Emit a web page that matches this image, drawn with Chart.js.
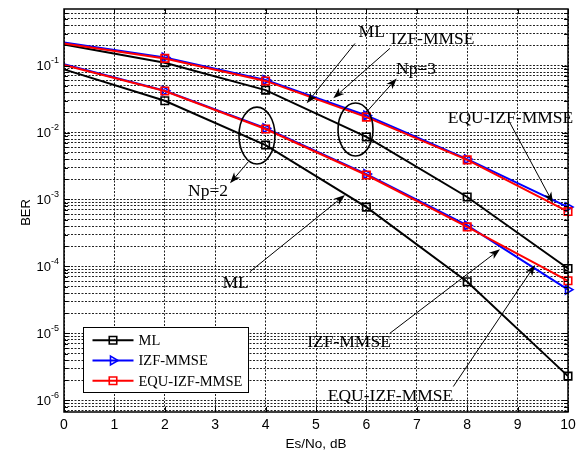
<!DOCTYPE html>
<html>
<head>
<meta charset="utf-8">
<script src="https://cdn.jsdelivr.net/npm/chart.js@4.4.1/dist/chart.umd.min.js"></script>
<style>
  html, body { margin: 0; padding: 0; background: #fff; }
</style>
</head>
<body>
<canvas id="ber" width="582" height="452"></canvas>
<script>
const snrDb = [0, 2, 4, 6, 8, 10];
const snrTicks = [0, 1, 2, 3, 4, 5, 6, 7, 8, 9, 10];
const berDecades = [-6, -5, -4, -3, -2, -1];
const methodNames = ['ML', 'IZF-MMSE', 'EQU-IZF-MMSE'];

// Np = 2
const mlNp2 = [0.0877, 0.0298, 0.0065, 7.7e-4, 5.9e-5, 2.3e-6];
const izfNp2 = [0.105, 0.042, 0.0116, 0.0024, 4.1e-4, 4.5e-5];
const equNp2 = [0.102, 0.0417, 0.0113, 0.00232, 3.9e-4, 6.1e-5];
// Np = 3
const mlNp3 = [0.207, 0.110, 0.043, 0.0086, 0.00109, 9.3e-5];
const izfNp3 = [0.222, 0.132, 0.061, 0.0180, 0.0040, 7.7e-4];
const equNp3 = [0.214, 0.128, 0.059, 0.0170, 0.0039, 6.6e-4];

const BER_MIN = 6.7e-7;
const BER_MAX = 0.7;
const SERIF = '"Liberation Serif", "Times New Roman", serif';
const SANS = '"Liberation Sans", Arial, sans-serif';

const styles = {
  ML: { color: '#000000', pointStyle: 'rect', rotation: 0, radius: 5.3, order: 2 },
  'IZF-MMSE': { color: '#0000ff', pointStyle: 'triangle', rotation: 90, radius: 5, order: 1 },
  'EQU-IZF-MMSE': { color: '#ff0000', pointStyle: 'rect', rotation: 0, radius: 5.3, order: 0 }
};

function makeSet(name, values) {
  const s = styles[name];
  return {
    label: name,
    data: snrDb.map((x, i) => ({ x, y: values[i] })),
    borderColor: s.color,
    borderWidth: 2,
    backgroundColor: 'rgba(0,0,0,0)',
    pointBackgroundColor: 'rgba(0,0,0,0)',
    pointBorderColor: s.color,
    pointBorderWidth: 1.6,
    pointStyle: s.pointStyle,
    pointRotation: s.rotation,
    pointRadius: snrDb.map((x, i) => i === 0 ? 0 : s.radius),
    pointHoverRadius: 0,
    tension: 0,
    clip: false,
    order: s.order
  };
}

// text callouts, placed in data coordinates (dB, BER)
const notes = [
  { text: 'ML', at: [6.105, 0.319], from: [5.774, 0.214], to: [4.815, 0.0273] },
  { text: 'IZF-MMSE', at: [7.315, 0.255], from: [6.468, 0.181], to: [5.343, 0.0324] },
  { text: 'Np=3', at: [6.984, 0.0918], from: [6.006, 0.0204], to: [6.601, 0.0644] },
  { text: 'EQU-IZF-MMSE', at: [8.859, 0.0170], from: [8.849, 0.0139], to: [9.702, 8.87e-4] },
  { text: 'Np=2', at: [2.857, 1.387e-3], from: [3.657, 3.66e-3], to: [3.294, 1.746e-3] },
  { text: 'ML', at: [3.403, 5.87e-5], from: [3.690, 8.36e-5], to: [5.575, 1.167e-3] },
  { text: 'IZF-MMSE', at: [5.655, 7.55e-6], from: [6.468, 1.007e-5], to: [8.651, 1.807e-4] },
  { text: 'EQU-IZF-MMSE', at: [6.478, 1.167e-6], from: [7.724, 1.607e-6], to: [9.345, 1.052e-4] }
];
// ellipses: centre (dB, BER), half width in dB, half height in decades
const rings = [
  { at: [5.784, 0.01109], rx: 0.347, ry: 0.3955 },
  { at: [3.829, 0.00902], rx: 0.357, ry: 0.425 }
];

function arrow(ctx, x0, y0, x1, y1) {
  const a = Math.atan2(y1 - y0, x1 - x0);
  const len = 11, half = 4, notch = 8;
  ctx.beginPath();
  ctx.moveTo(x0, y0);
  ctx.lineTo(x1 - Math.cos(a) * notch, y1 - Math.sin(a) * notch);
  ctx.stroke();
  const bx = x1 - Math.cos(a) * len, by = y1 - Math.sin(a) * len;
  ctx.beginPath();
  ctx.moveTo(x1, y1);
  ctx.lineTo(bx - Math.sin(a) * half, by + Math.cos(a) * half);
  ctx.lineTo(x1 - Math.cos(a) * notch, y1 - Math.sin(a) * notch);
  ctx.lineTo(bx + Math.sin(a) * half, by - Math.cos(a) * half);
  ctx.closePath();
  ctx.fill();
}

const decorations = {
  id: 'decorations',
  afterDatasetsDraw(chart) {
    const ctx = chart.ctx;
    const xs = chart.scales.x, ys = chart.scales.y;
    const ca = chart.chartArea;
    const px = v => xs.getPixelForValue(v);
    const py = v => ys.getPixelForValue(v);
    ctx.save();

    // inward tick marks + box
    ctx.strokeStyle = '#000';
    ctx.lineWidth = 1;
    ctx.beginPath();
    ys.ticks.forEach(t => {
      const y = Math.round(py(t.value)) + 0.5;
      const len = Math.abs(Math.log10(t.value) - Math.round(Math.log10(t.value))) < 1e-6 ? 6 : 4;
      ctx.moveTo(ca.left, y); ctx.lineTo(ca.left + len, y);
      ctx.moveTo(ca.right, y); ctx.lineTo(ca.right - len, y);
    });
    xs.ticks.forEach(t => {
      const x = Math.round(px(t.value)) + 0.5;
      ctx.moveTo(x, ca.bottom); ctx.lineTo(x, ca.bottom - 5);
      ctx.moveTo(x, ca.top); ctx.lineTo(x, ca.top + 5);
    });
    ctx.stroke();
    ctx.lineWidth = 1.5;
    ctx.strokeRect(Math.round(ca.left), Math.round(ca.top), Math.round(ca.right - ca.left), Math.round(ca.bottom - ca.top));

    // ellipses
    ctx.lineWidth = 1.6;
    rings.forEach(r => {
      const cx = px(r.at[0]), cy = py(r.at[1]);
      const rx = px(r.at[0] + r.rx) - cx;
      const ry = cy - py(r.at[1] * Math.pow(10, r.ry));
      ctx.beginPath();
      ctx.ellipse(cx, cy, rx, ry, 0, 0, Math.PI * 2);
      ctx.stroke();
    });

    // callouts
    ctx.lineWidth = 1;
    ctx.fillStyle = '#000';
    notes.forEach(n => {
      arrow(ctx, px(n.from[0]), py(n.from[1]), px(n.to[0]), py(n.to[1]));
    });
    ctx.font = '17.5px ' + SERIF;
    ctx.textAlign = 'center';
    ctx.textBaseline = 'middle';
    notes.forEach(n => {
      ctx.fillText(n.text, px(n.at[0]), py(n.at[1]) + 1);
    });

    // legend
    const lx = Math.round(ca.left) + 19.5, lw = 165, lh = 65;
    const ly = Math.round(ca.bottom) - 84.5;
    ctx.fillStyle = '#fff';
    ctx.fillRect(lx, ly, lw, lh);
    ctx.strokeStyle = '#000';
    ctx.lineWidth = 1;
    ctx.strokeRect(lx, ly, lw, lh);
    ctx.font = '14.5px ' + SERIF;
    ctx.textAlign = 'left';
    methodNames.forEach((name, i) => {
      const s = styles[name];
      const y = ly + 12.7 + i * 20.3;
      ctx.strokeStyle = s.color;
      ctx.lineWidth = 2;
      ctx.beginPath();
      ctx.moveTo(lx + 9, y); ctx.lineTo(lx + 50, y);
      ctx.stroke();
      ctx.lineWidth = 1.6;
      ctx.fillStyle = 'rgba(0,0,0,0)';
      Chart.helpers.drawPoint(ctx, {
        pointStyle: s.pointStyle, rotation: s.rotation, radius: s.radius,
        borderWidth: 1.6
      }, lx + 29.5, y);
      ctx.fillStyle = '#000';
      ctx.fillText(name, lx + 55, y + 1);
    });

    // y tick labels with exponents
    berDecades.forEach(e => {
      const y = py(Math.pow(10, e));
      ctx.fillStyle = '#000';
      ctx.textBaseline = 'middle';
      ctx.textAlign = 'right';
      ctx.font = '13px ' + SANS;
      ctx.fillText('10', ca.left - 13, y + 1);
      ctx.textAlign = 'left';
      ctx.font = '9px ' + SANS;
      ctx.fillText(String(e), ca.left - 13, y - 5);
    });

    // y title
    ctx.save();
    ctx.translate(26, (ca.top + ca.bottom) / 2 + 2);
    ctx.rotate(-Math.PI / 2);
    ctx.textAlign = 'center';
    ctx.textBaseline = 'middle';
    ctx.font = '13px ' + SANS;
    ctx.fillText('BER', 0, 0);
    ctx.restore();

    ctx.restore();
  }
};

const gridValues = [];
for (let e = -7; e <= 0; e++) {
  for (let k = 1; k <= 9; k++) {
    const v = k * Math.pow(10, e);
    if (v >= BER_MIN && v <= BER_MAX) gridValues.push(v);
  }
}

new Chart(document.getElementById('ber'), {
  type: 'line',
  data: {
    datasets: [
      makeSet('ML', mlNp2), makeSet('IZF-MMSE', izfNp2), makeSet('EQU-IZF-MMSE', equNp2),
      makeSet('ML', mlNp3), makeSet('IZF-MMSE', izfNp3), makeSet('EQU-IZF-MMSE', equNp3)
    ]
  },
  options: {
    responsive: false,
    animation: false,
    events: [],
    layout: { padding: { left: 0, right: 14, top: 9, bottom: 0 } },
    plugins: { legend: { display: false }, tooltip: { enabled: false } },
    scales: {
      x: {
        type: 'linear',
        min: 0,
        max: 10,
        afterBuildTicks: s => { s.ticks = snrTicks.map(v => ({ value: v })); },
        afterFit: s => { s.height = 40; },
        grid: { color: '#222', lineWidth: 1, drawTicks: false },
        border: { display: false, dash: [2, 1.5] },
        ticks: { color: '#000', font: { family: SANS, size: 14 }, padding: 5, autoSkip: false, maxRotation: 0 },
        title: { display: true, text: 'Es/No, dB', color: '#000', font: { family: SANS, size: 13.5 }, padding: 0 }
      },
      y: {
        type: 'logarithmic',
        min: BER_MIN,
        max: BER_MAX,
        afterBuildTicks: s => { s.ticks = gridValues.map(v => ({ value: v })); },
        afterFit: s => { s.width = 64; },
        grid: { color: '#222', lineWidth: 1, drawTicks: false },
        border: { display: false, dash: [2, 1.5] },
        ticks: { display: false, autoSkip: false }
      }
    }
  },
  plugins: [decorations]
});
</script>
</body>
</html>
